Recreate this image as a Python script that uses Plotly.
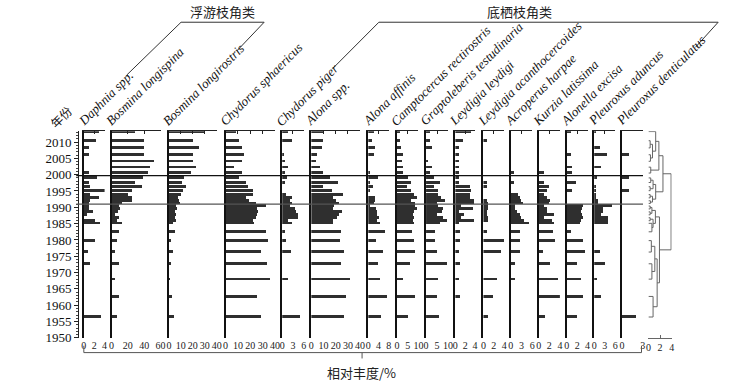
import plotly.graph_objects as go

# ---------------- data ----------------
years = [2013.2, 2010.4, 2008.2, 2006.1, 2004.1, 2002.3, 2000.5, 1999.0, 1997.6, 1996.3,
         1995.1, 1993.9, 1992.9, 1992.0, 1991.2, 1990.4, 1989.5, 1988.6, 1987.7, 1986.8,
         1985.9, 1985.1, 1982.5, 1979.8, 1976.3, 1972.7, 1968.0, 1962.7, 1956.4]

taxa = ["Daphnia spp.", "Bosmina longispina", "Bosmina longirostris", "Chydorus sphaericus",
        "Chydorus piger", "Alona spp.", "Alona affinis", "Camptocercus rectirostris",
        "Graptoleberis testudinaria", "Leydigia leydigi", "Leydigia acanthocercoides",
        "Acroperus harpae", "Kurzia latissima", "Alonella excisa", "Pleuroxus aduncus",
        "Pleuroxus denticulatus"]

daphnia = [2.8, 2.4, 1.0, 1.0, 0, 0, 1.0, 2.5, 1.0, 1.1, 4.0, 1.1, 2.9, 1.1, 1.0, 1.0, 1.0, 1.8, 0.6, 0, 2.1, 3.0, 0, 2.1, 0.8, 1.1, 0, 0, 3.3]
bosmina_longispina = [28, 39, 39, 39, 51, 46, 44, 38, 28, 37, 24, 19, 24, 24, 12, 9, 10, 7, 4, 8, 6, 12, 8, 6, 4, 9, 4, 8, 6]
bosmina_longirostris = [30, 20.5, 24.7, 20.5, 20.5, 22.8, 18.6, 12.5, 10.8, 13.9, 12, 10.3, 7.5, 8, 9, 6, 6.7, 4.7, 6, 4.7, 5.5, 3.3, 5.3, 1.1, 3.3, 2, 0.5, 2.8, 4.2]
chydorus_sphaericus = [8, 10.7, 13.3, 14.7, 13.3, 6.7, 13.3, 10.7, 16, 18, 22, 22, 16, 18.7, 24, 32.5, 25, 26, 25, 24, 22, 22.7, 32.5, 34, 28.5, 33, 35.5, 24.8, 28]
chydorus_piger = [1.6, 2.8, 0, 0.6, 0.7, 1.8, 0.7, 1.4, 0.7, 0, 0, 1.0, 2.8, 2.1, 2.8, 2.1, 3.5, 4.0, 4.4, 4.6, 1.8, 2.8, 0.7, 1.0, 2.5, 0, 1.6, 0, 5.0]
alona_spp = [9.5, 10, 8.7, 4.6, 4, 7.6, 9.5, 15.8, 22.3, 9.5, 17, 25.9, 17.7, 20.4, 22.6, 18.5, 17.7, 25.3, 23, 21, 17.7, 17.7, 25, 24, 27, 24.5, 31.8, 28.6, 27]
alona_affinis = [2.2, 1.5, 2.8, 2.2, 0, 0, 0.9, 3.8, 0.9, 1.9, 0.9, 0, 2.8, 2.8, 2.2, 0.9, 3.2, 3.4, 3.4, 4.3, 3.6, 4.7, 6.8, 3.0, 6.0, 4.0, 4.7, 7.6, 5.1]
camptocercus = [1.5, 1.2, 2, 2.6, 2.3, 2.6, 2.6, 5.3, 6.5, 4.5, 6.5, 8, 9.5, 6.5, 8.3, 8.6, 9.5, 8, 7.6, 8, 7.6, 8, 6.8, 8, 8.6, 6, 3, 8.6, 5.3]
graptoleberis = [1.8, 1.8, 2.9, 0, 0.8, 2.9, 1.8, 3.8, 6.4, 3.8, 5.6, 5.3, 6.8, 8.6, 4.8, 5.6, 7.9, 7.1, 4.8, 7.5, 9.4, 6.5, 4.1, 4.1, 5.2, 9.4, 5.6, 5.2, 6.1]
leydigia_leydigi = [3.2, 1.7, 0.9, 0.9, 0.9, 0.9, 0.9, 0.9, 0.9, 3.1, 3.3, 3.1, 3.1, 3.9, 3.9, 1.2, 3.7, 0.9, 1.9, 1.2, 3.9, 0.9, 1.0, 1.0, 0.9, 1.1, 0.9, 1.1, 0]
leydigia_acanth = [0, 0.7, 0, 0, 0, 0, 0, 0, 0.8, 0.8, 0, 0, 0, 0.8, 1.0, 1.0, 1.0, 0.8, 0.7, 1.0, 1.0, 0, 0.8, 4.0, 3.5, 0, 2.6, 2.0, 1.0]
acroperus = [0, 0, 0, 0, 0, 0, 0.9, 0, 0.7, 0, 0, 2.0, 2.5, 2.9, 3.4, 1.1, 1.2, 1.8, 2.5, 2.9, 3.5, 5.0, 2.5, 2.5, 2.5, 1.2, 1.1, 0, 0]
kurzia = [0, 0, 0, 0, 0, 0, 1.0, 0, 1.0, 1.9, 1.5, 1.0, 1.6, 2.1, 1.9, 1.0, 1.6, 1.6, 2.9, 1.0, 2.4, 2.8, 2.7, 3.0, 0.8, 2.0, 3.6, 3.9, 1.1]
alonella = [0.8, 0, 0, 0.8, 0, 1.0, 1.0, 0, 1.8, 0, 1.0, 0, 0, 0, 0, 3.0, 2.9, 2.7, 2.9, 3.0, 2.7, 2.5, 0.8, 3.0, 3.5, 2.0, 2.7, 3.0, 2.0]
pleuroxus_aduncus = [0.4, 0, 1.8, 3.7, 0, 2.0, 0, 0.8, 0, 0.7, 0.7, 0.7, 0.7, 1.1, 1.1, 5.0, 2.7, 2.5, 2.0, 3.9, 4.1, 3.9, 0, 0, 1.6, 3.0, 0.9, 2.0, 0]
pleuroxus_dent = [0, 0, 0, 1.0, 0, 0, 0, 1.0, 0, 0, 1.0, 0, 0, 0, 0, 0, 0, 0, 0, 0, 0, 0, 0, 0, 0, 0, 0, 0, 2.0]

series = [daphnia, bosmina_longispina, bosmina_longirostris, chydorus_sphaericus, chydorus_piger,
          alona_spp, alona_affinis, camptocercus, graptoleberis, leydigia_leydigi, leydigia_acanth,
          acroperus, kurzia, alonella, pleuroxus_aduncus, pleuroxus_dent]

axis_max = [4, 60, 40, 40, 6, 40, 8, 10, 10, 4, 4, 6, 4, 4, 6, 3]
tick_step = [2, 20, 10, 10, 3, 10, 4, 5, 5, 2, 2, 3, 2, 2, 3, 3]

# CONISS-style clustering: (child a, child b, height); leaves are sample indices
linkage = [(1, 2, 0.3), (3, 4, 0.35), (29, 30, 0.7), (0, 31, 1.25), (5, 6, 0.4), (32, 33, 1.8),
           (7, 8, 0.4), (9, 10, 0.3), (35, 36, 0.8), (11, 12, 0.3), (13, 14, 0.35), (38, 39, 0.7),
           (37, 40, 1.25), (34, 41, 2.5), (15, 16, 0.3), (17, 18, 0.3), (43, 44, 0.6), (19, 20, 0.3),
           (21, 22, 0.6), (46, 47, 0.8), (45, 48, 1.2), (23, 24, 0.5), (25, 26, 0.6), (50, 51, 1.1),
           (27, 28, 0.8), (52, 53, 1.5), (49, 54, 1.9), (42, 55, 3.9)]
dendro_ticks = [0, 2, 4]

zone_years = [1999.7, 1991.0]
year_ticks = list(range(1950, 2011, 5))

# ---------------- layout helpers ----------------
W, H = 738, 389
def px(x): return x / W
def py(y): return 1 - y / H

panel_left = [81.7, 109.7, 167.7, 225, 282.3, 311.7, 369.3, 398.3, 427.7, 457.3, 485.7,
              513.3, 541.7, 570, 597.7, 625.7]
panel_width = [21, 49.6, 48.3, 50, 21.7, 49.3, 20.7, 21.7, 22.3, 20, 21, 21.7, 21.3, 21, 21.3, 21]

ydom = [py(345), py(134)]
yrange = [1950, 2013.3]
SERIF = "Liberation Serif"
CJK = "Noto Sans CJK SC"

def xname(n): return "xaxis" if n == 1 else f"xaxis{n}"
def xref(n): return "x" if n == 1 else f"x{n}"

fig = go.Figure()
layout = {}

for i, (name, vals) in enumerate(zip(taxa, series)):
    xb, xt, yl = 2 * i + 1, 2 * i + 2, i + 2
    fig.add_trace(go.Bar(y=years, x=vals, orientation="h", xaxis=xref(xb), yaxis="y",
                         marker=dict(color="#2f2f2f", line=dict(width=0)), width=0.8,
                         showlegend=False, name=name))
    # invisible helper so the top axis and the panel's left line are drawn
    fig.add_trace(go.Scatter(x=[0], y=[1950], xaxis=xref(xt), yaxis=f"y{yl}", mode="markers",
                             marker=dict(opacity=0, size=1), showlegend=False, hoverinfo="skip"))
    dom = [px(panel_left[i]), px(panel_left[i] + panel_width[i])]
    tv = list(range(0, axis_max[i] + 1, tick_step[i]))
    layout[xname(xb)] = dict(domain=dom, range=[0, axis_max[i]], anchor="y", side="bottom",
                             showline=False, ticks="", tickvals=tv, tickangle=0,
                             showgrid=False, zeroline=False,
                             tickfont=dict(family=SERIF, size=10, color="#222"))
    layout[xname(xt)] = dict(domain=dom, range=[0, axis_max[i]], overlaying=xref(xb), anchor="y",
                             side="top", showline=True, linecolor="#222", linewidth=1,
                             ticks="inside", ticklen=3, tickcolor="#222", tickvals=tv,
                             showticklabels=False, showgrid=False, zeroline=False)
    layout[f"yaxis{yl}"] = dict(domain=ydom, range=yrange, overlaying="y", anchor=xref(xb),
                                side="left", showline=True, linecolor="#111", linewidth=1.5,
                                ticks="", showticklabels=False, showgrid=False, zeroline=False)

# dendrogram
n = len(years)
pos = {k: years[k] for k in range(n)}
hgt = {k: 0.0 for k in range(n)}
dx, dy = [], []
for j, (a, b, h) in enumerate(linkage):
    for c in (a, b):
        dx += [hgt[c], h, None]
        dy += [pos[c], pos[c], None]
    dx += [h, h, None]
    dy += [pos[a], pos[b], None]
    pos[n + j] = (pos[a] + pos[b]) / 2
    hgt[n + j] = h
dn = 2 * len(taxa) + 1
fig.add_trace(go.Scatter(x=dx, y=dy, mode="lines", line=dict(color="#666", width=1),
                         xaxis=xref(dn), yaxis="y", showlegend=False, hoverinfo="skip"))
layout[xname(dn)] = dict(domain=[px(652.5), px(676)], range=[0, 4], anchor="y", side="bottom",
                         showline=True, linecolor="#666", linewidth=1, ticks="inside", ticklen=3,
                         tickcolor="#666", tickvals=dendro_ticks, tickangle=0, showgrid=False,
                         zeroline=False, tickfont=dict(family=SERIF, size=10, color="#222"))

layout["yaxis"] = dict(domain=ydom, range=yrange, anchor="free", position=px(76), side="left",
                       showline=True, linecolor="#222", linewidth=1, ticks="outside", ticklen=4,
                       tickcolor="#222", tickvals=year_ticks, showgrid=False, zeroline=False,
                       minor=dict(dtick=1, tick0=1950, ticks="outside", ticklen=2, tickcolor="#444"),
                       tickfont=dict(family=SERIF, size=13, color="#111"))

shapes = []
for k, yv in enumerate(zone_years):
    shapes.append(dict(type="line", xref="paper", yref="y", x0=px(74), x1=px(647), y0=yv, y1=yv,
                       line=dict(color="#111" if k == 0 else "#555", width=1.3)))

def seg(x0, y0, x1, y1, color="#333", w=1):
    shapes.append(dict(type="line", xref="paper", yref="paper", x0=px(x0), y0=py(y0),
                       x1=px(x1), y1=py(y1), line=dict(color=color, width=w)))

# group brackets
seg(125, 76.7, 180, 22.7); seg(180, 22.7, 264, 22.7); seg(264, 22.7, 236.7, 51.7)
seg(333.3, 70, 380, 22.7); seg(380, 22.7, 723, 22.7); seg(723, 22.7, 700, 48.3)
# bottom bracket
seg(81.7, 353, 81.7, 360, "#555"); seg(81.7, 360, 645.5, 360, "#555")
seg(645.5, 353, 645.5, 360, "#555"); seg(363, 360, 363, 366, "#555")

annotations = []
for i, name in enumerate(taxa):
    annotations.append(dict(text=f"<i>{name}</i>", x=px(panel_left[i] - 12), y=py(134),
                            xref="paper", yref="paper", xanchor="left", yanchor="bottom",
                            textangle=-45, showarrow=False,
                            font=dict(family=SERIF, size=13, color="#111")))
annotations.append(dict(text="年份", x=px(41), y=py(137), xref="paper", yref="paper",
                        xanchor="left", yanchor="bottom", textangle=-45, showarrow=False,
                        font=dict(family=CJK, size=12, color="#111")))
annotations.append(dict(text="浮游枝角类", x=px(222), y=py(12), xref="paper", yref="paper",
                        xanchor="center", yanchor="middle",
                        showarrow=False, font=dict(family=CJK, size=13, color="#222")))
annotations.append(dict(text="底栖枝角类", x=px(522), y=py(12), xref="paper", yref="paper",
                        xanchor="center", yanchor="middle",
                        showarrow=False, font=dict(family=CJK, size=13, color="#222")))
annotations.append(dict(text="相对丰度/%", x=px(362), y=py(380), xref="paper", yref="paper",
                        xanchor="center", yanchor="middle",
                        showarrow=False, font=dict(family=CJK, size=13, color="#222")))

fig.update_layout(width=W, height=H, margin=dict(l=0, r=0, t=0, b=0),
                  paper_bgcolor="white", plot_bgcolor="white", showlegend=False,
                  bargap=0, shapes=shapes, annotations=annotations, **layout)

fig.write_html(
    "out.html", config={"displayModeBar": False},
    post_script=("document.documentElement.style.margin='0';"
                 "document.documentElement.style.overflow='hidden';"
                 "document.body.style.margin='0';document.body.style.padding='0';"
                 "document.body.style.overflow='hidden';document.body.style.height='389px';"))
